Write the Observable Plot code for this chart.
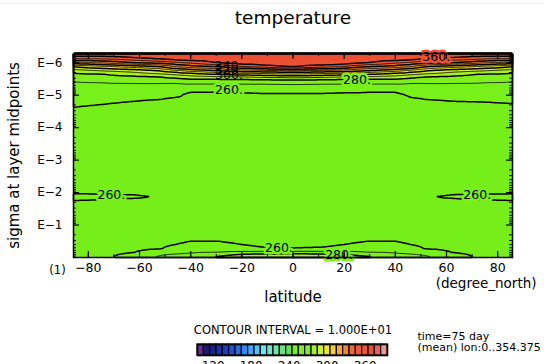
<!DOCTYPE html>
<html><head><meta charset="utf-8">
<script src="https://cdn.jsdelivr.net/npm/d3@7"></script>
<script src="https://cdn.jsdelivr.net/npm/@observablehq/plot@0.6"></script>
<style>
body{margin:0;background:#fff;}
#wrap{position:relative;width:544px;height:364px;overflow:hidden;font-family:"DejaVu Sans",sans-serif;background:#fff;}
#wrap svg{position:absolute;}
#topline{position:absolute;left:0;top:3px;width:544px;height:1px;background:#f1eaea;}
</style></head><body><div id="wrap"><div id="topline"></div></div>
<script>
// ---------- data ----------
const latitudes = [-85.8, -75, -62, -52, -46, -40, -29, -20, -12, 0, 12, 20, 29, 40, 46, 52, 62, 75, 85.8];
const sigmaLevels = [5.2e-7, 7.05e-7, 1.0e-6, 1.33e-6, 1.77e-6, 2.19e-6, 2.71e-6, 3.35e-6, 4.45e-6, 6.35e-6,
  9.06e-6, 1.49e-5, 2.44e-5, 6.15e-5, 5.16e-4, 4.34e-3, 7.65e-3, 9.46e-3, 1.26e-2, 1.79e-2,
  2.55e-2, 7.40e-2, 0.214, 0.306, 0.436, 0.540, 0.667, 0.769, 1.0];
const temperature = [
  [368,368,370,372,374,376,378,380,380,380,380,380,378,376,374,372,370,368,368],
  [355,355.6,360,364,368,370,372,375,376,377,376,375,372,370,368,364,360,355.6,355],
  [326.7,331.4,340,344,348,352,360,366,368,370,368,366,360,352,348,344,340,331.4,326.7],
  [300,306.7,313.3,320,330,335,340,348.6,353.3,360,353.3,348.6,340,335,330,320,313.3,306.7,300],
  [285,290,294.3,300,306.7,313.3,320,325.7,326.7,330,326.7,325.7,320,313.3,306.7,300,294.3,290,285],
  [278.8,280,285.7,290,293.3,296.7,302.9,306.7,308.6,311.4,308.6,306.7,302.9,296.7,293.3,290,285.7,280,278.8],
  [275,276.3,278.6,280,283.3,286.7,288.9,290,292.5,295,292.5,290,288.9,286.7,283.3,280,278.6,276.3,275],
  [271.3,272.5,274.3,275,276,278,278,278,278.9,280.2,278.9,278,278,278,276,275,274.3,272.5,271.3],
  [268.8,269.1,269.4,269.4,269.2,270.3,270.3,270.3,270.3,271.1,270.3,270.3,270.3,270.3,269.2,269.4,269.4,269.1,268.8],
  [266.9,266.8,266.7,266.3,265.4,262.9,262.9,263.8,264.4,264.7,264.4,263.8,262.9,262.9,265.4,266.3,266.7,266.8,266.9],
  [265,264.5,263.9,263.1,261.5,258.8,258.8,259,259.4,259.4,259.4,259,258.8,258.8,261.5,263.1,263.9,264.2,264.1],
  [262.3,261.4,260.1,259.3,258.6,257.5,257.3,257.3,257.3,257.3,257.3,257.3,257.3,257.5,258.6,259.3,260.1,260.4,260.9],
  [259.8,258.8,257.8,257.5,257,256.5,256.5,256.5,256.5,256.5,256.5,256.5,256.5,256.5,257,257.5,257.8,258.2,258.6],
  [257.2,257,256.8,256.5,256.2,256,256,256,256,256,256,256,256,256,256.2,256.5,256.8,257,257.2],
  [255,255,255,255,255,255,255,255,255,255,255,255,255,255,255,255,255,255,255],
  [256,256,256,256,256,256,256,256,256,256,256,256,256,256,256,256,256,256,256],
  [257,257,257,257,257,257,257,257,257,257,257,257,257,257,257,257,257,257,257],
  [258,258,258,258,258,258,258,258,258,258,258,258,258,258,258,258,258,258,258],
  [262,261.5,260.8,259.6,259,259,259,259,259,259,259,259,259,259,259,259.6,260.8,261.5,262],
  [259.9,259.6,259.2,258.8,258.5,258.5,258.5,258.5,258.5,258.5,258.5,258.5,258.5,258.5,258.5,258.8,259.2,259.6,259.9],
  [257.5,257.5,257.5,257.5,257.5,257.5,257.5,257.5,257.5,257.5,257.5,257.5,257.5,257.5,257.5,257.5,257.5,257.5,257.5],
  [256.5,256.5,256.5,256.5,256.5,256.5,256.5,256.5,256.5,256.5,256.5,256.5,256.5,256.5,256.5,256.5,256.5,256.5,256.5],
  [257.5,257.5,257.5,257.5,258,258.3,258.3,258,257.5,257.5,257.5,258,258.3,258.3,258,257.5,257.5,257.5,257.5],
  [256,256.5,257,257.8,258.5,259.8,259.8,258.5,258,257.5,258,258.5,259.8,259.8,258.5,257.8,257,256.5,256],
  [256.5,257,258,259,260.5,262,262,260.5,259.3,258.8,259.3,260.5,262,262,260.5,259,258,257,256.5],
  [257,257.5,258.5,259.7,262,264,264,262.5,261,260.5,261,262.5,264,264,262,259.7,258.5,257.5,257],
  [257.5,258,259.5,263,265,267,268,270.5,271,271.5,271,270.5,268,267,265,263,259.5,258,257.5],
  [258,258.5,261,268,270,272,276,279,280.5,281,280.5,279,276,272,270,268,261,258.5,258],
  [258.5,259,262,272,275,277,282,286,289,290,289,286,282,277,275,272,262,259,258.5]
];
// contour levels (interval 10) and colour table of the shading
const shadeLevels = [100,110,120,130,140,150,160,170,180,190,200,210,220,230,240,250,260,270,280,290,300,310,320,330,340,350,360,370,380,390];
const shadeColors = ["#6a2c9e","#1c1c6c","#1c2488","#1c30a4","#1c3cc4","#1e50dc","#2468ec","#2e86f2","#40a4f2","#52c2f2",
  "#64e8f0","#68e8c8","#6ce4a4","#6ce282","#64de5c","#76ee1a","#78f01a","#80f01c","#a8f024","#d0f02a",
  "#f0e630","#f8cc30","#f8a830","#f28630","#f06a30","#f05a30","#ee5230","#ec4e34","#e66060","#f09494"];
const majorLines = [260, 280, 300, 320, 340, 360];
const minorLines = [270, 290, 310, 330, 350];
// contour labels (latitude, sigma, text)
const labelsOnGreen = [
  {lat: -25, sigma: 6.8e-6, text: "260."},
  {lat: 25, sigma: 3.35e-6, text: "280."},
  {lat: -71, sigma: 1.17e-2, text: "260."},
  {lat: 72, sigma: 1.17e-2, text: "260."},
  {lat: -5.5, sigma: 0.503, text: "260."},
  {lat: 18, sigma: 0.855, text: "280."}
];
const labelsOnRed = [{lat: 56, sigma: 6.8e-7, text: "360."}];
const labelsStacked = [
  {lat: -26, sigma: 1.24e-6, text: "340"},
  {lat: -26, sigma: 1.71e-6, text: "320"},
  {lat: -25, sigma: 2.35e-6, text: "300."}
];
const latTicks = [-80, -60, -40, -20, 0, 20, 40, 60, 80];
const latMinorTicks = [-80,-70,-60,-50,-40,-30,-20,-10,0,10,20,30,40,50,60,70,80];
const sigmaTicks = [1e-1, 1e-2, 1e-3, 1e-4, 1e-5, 1e-6];
const sigmaTickLabels = ["E−1", "E−2", "E−3", "E−4", "E−5", "E−6"];
const colorbarTicks = [120, 180, 240, 300, 360];

// ---------- build ----------
const grid = sigmaLevels.flatMap((s, i) => latitudes.map((lat, j) => ({lat, sigma: s, t: temperature[i][j]})));
const sigmaMinorTicks = [];
for (let e = -7; e <= -1; e++) for (let m = 2; m <= 9; m++) {
  const v = m * Math.pow(10, e);
  if (v > 5.2e-7 && v < 1) sigmaMinorTicks.push(v);
}
const W = 544, H = 364, mL = 73, mR = 32, mT = 53, mB = 107;
const fW = W - mL - mR, fH = H - mT - mB;
const colorScale = {type: "threshold", domain: shadeLevels.slice(1), range: shadeColors};
const F = "DejaVu Sans";
const green = "#78f01a";

const main = Plot.plot({
  width: W, height: H, marginLeft: mL, marginRight: mR, marginTop: mT, marginBottom: mB,
  style: {fontFamily: F, fontSize: "12.5px", background: "transparent", color: "#000"},
  x: {domain: [-85.8, 85.8], label: null},
  y: {type: "log", domain: [1, 5.2e-7], label: null},
  color: colorScale,
  marks: [
    Plot.contour(grid, {x: "lat", y: "sigma", fill: "t", thresholds: shadeLevels, interpolate: "barycentric"}),
    Plot.contour(grid, {x: "lat", y: "sigma", value: "t", thresholds: minorLines, interpolate: "barycentric", stroke: "#000", strokeWidth: 0.8, fill: "none"}),
    Plot.contour(grid, {x: "lat", y: "sigma", value: "t", thresholds: majorLines, interpolate: "barycentric", stroke: "#000", strokeWidth: 1.5, fill: "none"}),
    Plot.text(labelsOnGreen, {x: "lat", y: "sigma", text: "text", fontSize: 12.5, fill: "#000", stroke: green, strokeWidth: 5, lineAnchor: "middle"}),
    Plot.text(labelsOnRed, {x: "lat", y: "sigma", text: "text", fontSize: 12.5, fill: "#000", stroke: "#ee5230", strokeWidth: 5, lineAnchor: "middle"}),
    Plot.text(labelsStacked, {x: "lat", y: "sigma", text: "text", fontSize: 12.5, fill: "#000", lineAnchor: "middle"}),
    // inward ticks
    Plot.tickX(latTicks, {x: d => d, insetTop: fH - 6, stroke: "#000", strokeWidth: 1.2}),
    Plot.tickX(latTicks, {x: d => d, insetBottom: fH - 6, stroke: "#000", strokeWidth: 1.2}),
    Plot.tickX(latMinorTicks, {x: d => d, insetTop: fH - 3, stroke: "#000", strokeWidth: 1}),
    Plot.tickX(latMinorTicks, {x: d => d, insetBottom: fH - 3, stroke: "#000", strokeWidth: 1}),
    Plot.tickY(sigmaTicks, {y: d => d, insetRight: fW - 6, stroke: "#000", strokeWidth: 1.2}),
    Plot.tickY(sigmaTicks, {y: d => d, insetLeft: fW - 6, stroke: "#000", strokeWidth: 1.2}),
    Plot.tickY(sigmaMinorTicks, {y: d => d, insetRight: fW - 3, stroke: "#000", strokeWidth: 0.9}),
    Plot.tickY(sigmaMinorTicks, {y: d => d, insetLeft: fW - 3, stroke: "#000", strokeWidth: 0.9}),
    Plot.frame({stroke: "#000", strokeWidth: 1.5}),
    Plot.axisX(latTicks, {tickSize: 0, tickPadding: 6, fontSize: 12.5, tickFormat: d => (d < 0 ? "−" + (-d) : String(d))}),
    Plot.axisY(sigmaTicks, {tickSize: 0, tickPadding: 11, fontSize: 12, tickFormat: d => sigmaTickLabels[sigmaTicks.indexOf(d)]}),
    // texts
    Plot.text(["temperature"], {text: d => d, frameAnchor: "top", dy: -35, fontSize: 18.5, lineAnchor: "middle"}),
    Plot.text(["sigma at layer midpoints"], {text: d => d, frameAnchor: "left", dx: -59, rotate: -90, fontSize: 15, textAnchor: "middle", lineAnchor: "middle"}),
    Plot.text(["latitude"], {text: d => d, frameAnchor: "bottom", dy: 40, fontSize: 15, lineAnchor: "middle"}),
    Plot.text(["(1)"], {text: d => d, frameAnchor: "bottom-left", dx: -16, dy: 13, fontSize: 11.5, textAnchor: "middle", lineAnchor: "middle"}),
    Plot.text(["(degree_north)"], {text: d => d, frameAnchor: "bottom-right", dx: 24, dy: 26, fontSize: 13.5, textAnchor: "end", lineAnchor: "middle"}),
    Plot.text(["CONTOUR INTERVAL = 1.000E+01"], {text: d => d, frameAnchor: "bottom", dy: 73, fontSize: 11.5, lineAnchor: "middle"}),
    Plot.text(["time=75 day"], {text: d => d, frameAnchor: "bottom-left", dx: 344, dy: 79, fontSize: 11, textAnchor: "start", lineAnchor: "middle"}),
    Plot.text(["(mean) lon:0..354.375"], {text: d => d, frameAnchor: "bottom-left", dx: 344, dy: 90, fontSize: 11, textAnchor: "start", lineAnchor: "middle"})
  ]
});
main.style.left = "0px"; main.style.top = "0px";
document.getElementById("wrap").appendChild(main);

const cb = Plot.plot({
  width: 202, height: 30, marginLeft: 6, marginRight: 6, marginTop: 4, marginBottom: 15,
  style: {fontFamily: F, fontSize: "12px", background: "transparent", color: "#000"},
  x: {domain: [100, 400], label: null},
  color: colorScale,
  marks: [
    Plot.rect(shadeLevels, {x1: d => d, x2: d => d + 10, fill: d => d, stroke: "#000", strokeWidth: 1.2}),
    Plot.frame({stroke: "#000", strokeWidth: 1.6}),
    Plot.axisX(colorbarTicks, {tickSize: 0, tickPadding: 6, dx: 3, fontSize: 12})
  ]
});
cb.style.left = "191px"; cb.style.top = "340px";
document.getElementById("wrap").appendChild(cb);
</script>
</body></html>
